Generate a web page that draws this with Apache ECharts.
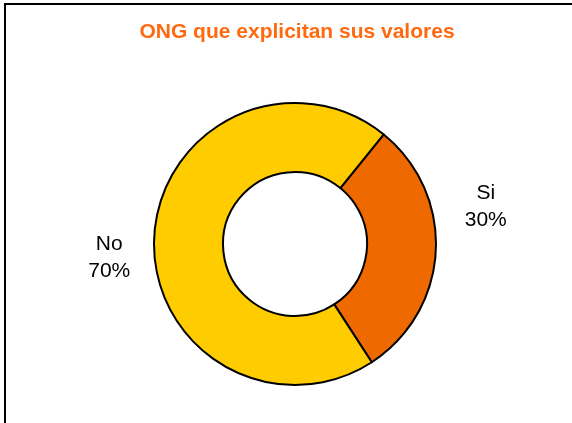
<!DOCTYPE html>
<html>
<head>
<meta charset="utf-8">
<script src="https://cdn.jsdelivr.net/npm/echarts@6/dist/echarts.min.js"></script>
<style>
html,body{margin:0;padding:0;background:#fff;}
#main{width:572px;height:423px;}
</style>
</head>
<body>
<div id="main"></div>
<script>
var titleText = 'ONG que explicitan sus valores';
var categories = ['Si', 'No'];
var values = [30, 70];
var colors = ['#EE6A00', '#FFCC00'];

var chart = echarts.init(document.getElementById('main'), null, {renderer: 'canvas'});
var data = categories.map(function (c, i) {
  return {name: c, value: values[i], itemStyle: {color: colors[i]}};
});
chart.setOption({
  animation: false,
  backgroundColor: '#ffffff',
  title: {
    text: titleText,
    left: 292,
    textAlign: 'center',
    top: 17,
    textStyle: {
      fontFamily: 'Liberation Sans, Arial, sans-serif',
      fontSize: 21,
      fontWeight: 'bold',
      color: '#FF6A10'
    }
  },
  graphic: [{
    type: 'rect',
    shape: {x: 5, y: 4, width: 700, height: 600},
    style: {fill: 'none', stroke: '#000', lineWidth: 2},
    silent: true,
    z: 100
  }],
  series: [{
    type: 'pie',
    center: [295, 244],
    radius: [72, 141],
    startAngle: 51,
    clockwise: true,
    avoidLabelOverlap: false,
    data: data,
    itemStyle: {borderColor: '#000', borderWidth: 2},
    label: {
      show: true,
      position: 'outside',
      formatter: function (p) { return '{a|' + p.name + '}\n{a|' + Math.round(p.percent) + '%}'; },
      rich: {
        a: {
          width: 46,
          align: 'center',
          fontFamily: 'Liberation Sans, Arial, sans-serif',
          fontSize: 21,
          color: '#000',
          lineHeight: 27
        }
      }
    },
    labelLine: {show: false, length: 20, length2: 2},
    labelLayout: function (p) {
      return p.dataIndex === 0 ? {dy: -46} : {dx: 5, dy: 22};
    },
    emphasis: {disabled: true}
  }]
});
</script>
</body>
</html>
